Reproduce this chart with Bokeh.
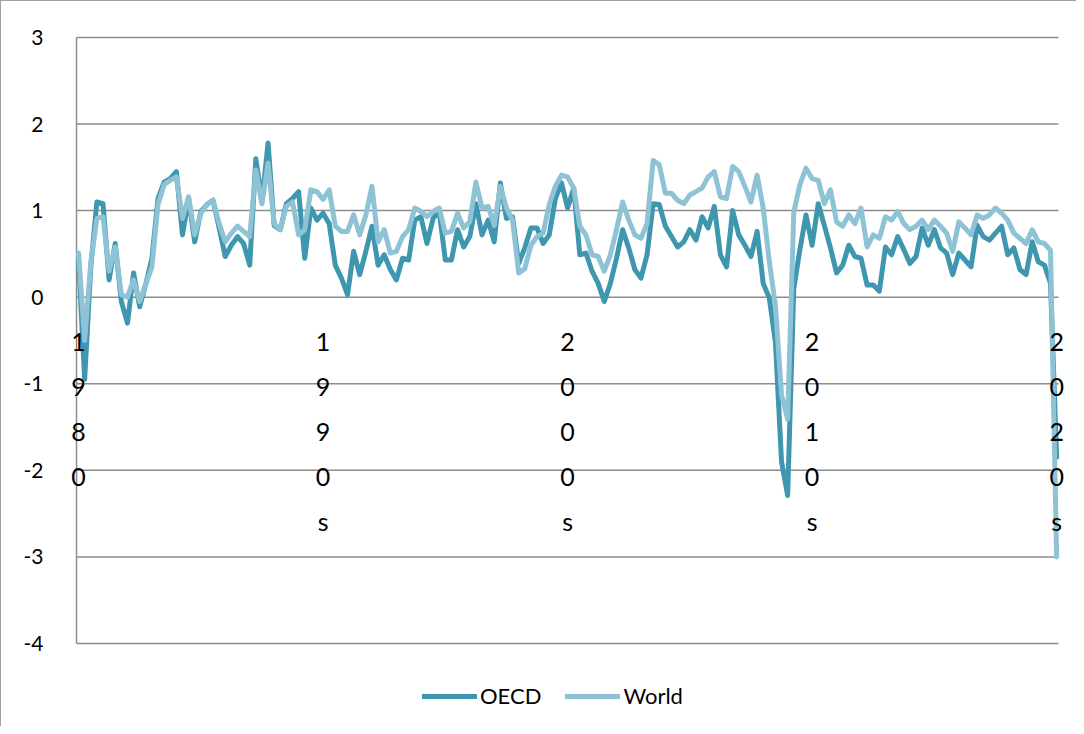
from bokeh.plotting import figure
from bokeh.models import ColumnDataSource, Legend, LegendItem, Range1d, FixedTicker
from bokeh.core.properties import value
from bokeh.embed import file_html
from bokeh.resources import INLINE

# Quarterly GDP growth, quarter-on-quarter (%), 1980Q1 - 2020Q1
quarters = [f"{y}Q{q}" for y in range(1980, 2021) for q in range(1, 5)][:161]

oecd = [0.45, -0.95, 0.35, 1.10, 1.08, 0.20, 0.62, -0.05, -0.30, 0.28,
        -0.11, 0.15, 0.45, 1.14, 1.33, 1.37, 1.45, 0.72, 1.14, 0.64,
        0.99, 1.07, 1.12, 0.80, 0.47, 0.60, 0.70, 0.62, 0.37, 1.60,
        1.10, 1.78, 0.83, 0.78, 1.08, 1.14, 1.22, 0.45, 1.03, 0.89,
        0.97, 0.85, 0.37, 0.22, 0.03, 0.53, 0.26, 0.53, 0.82, 0.37,
        0.49, 0.32, 0.20, 0.45, 0.43, 0.89, 0.93, 0.62, 0.91, 0.99,
        0.43, 0.43, 0.78, 0.58, 0.70, 1.08, 0.72, 0.89, 0.64, 1.32,
        0.91, 0.93, 0.39, 0.57, 0.80, 0.80, 0.62, 0.72, 1.14, 1.32,
        1.03, 1.26, 0.49, 0.51, 0.30, 0.16, -0.05, 0.16, 0.45, 0.78,
        0.57, 0.32, 0.22, 0.49, 1.08, 1.07, 0.82, 0.70, 0.58, 0.64,
        0.78, 0.66, 0.93, 0.80, 1.05, 0.49, 0.35, 1.00, 0.72, 0.60,
        0.47, 0.76, 0.16, -0.01, -0.52, -1.90, -2.29, 0.10, 0.55, 0.95,
        0.60, 1.08, 0.83, 0.57, 0.28, 0.37, 0.60, 0.47, 0.45, 0.14,
        0.14, 0.07, 0.58, 0.49, 0.70, 0.55, 0.39, 0.47, 0.80, 0.60,
        0.78, 0.57, 0.51, 0.26, 0.51, 0.43, 0.35, 0.83, 0.70, 0.66,
        0.74, 0.82, 0.49, 0.57, 0.32, 0.26, 0.64, 0.41, 0.37, 0.16,
        -1.85]

world = [0.51, -0.50, 0.40, 0.91, 0.93, 0.30, 0.58, 0.03, 0.00, 0.20,
         -0.05, 0.15, 0.35, 1.07, 1.30, 1.35, 1.39, 0.91, 1.16, 0.72,
         0.97, 1.07, 1.12, 0.85, 0.64, 0.74, 0.82, 0.76, 0.70, 1.47,
         1.08, 1.55, 0.85, 0.78, 1.05, 1.10, 0.72, 0.78, 1.24, 1.22,
         1.13, 1.24, 0.82, 0.76, 0.76, 0.95, 0.72, 0.95, 1.28, 0.64,
         0.78, 0.51, 0.53, 0.70, 0.78, 1.03, 0.99, 0.93, 0.99, 1.03,
         0.74, 0.76, 0.97, 0.80, 0.87, 1.33, 1.03, 1.05, 0.83, 1.28,
         1.03, 0.89, 0.28, 0.33, 0.60, 0.70, 0.74, 1.07, 1.28, 1.41,
         1.39, 1.26, 0.82, 0.72, 0.49, 0.47, 0.30, 0.49, 0.78, 1.10,
         0.89, 0.72, 0.68, 0.85, 1.58, 1.53, 1.20, 1.20, 1.12, 1.08,
         1.18, 1.22, 1.26, 1.39, 1.45, 1.16, 1.14, 1.51, 1.45, 1.28,
         1.10, 1.41, 1.03, 0.41, -0.10, -1.13, -1.41, 0.98, 1.30, 1.49,
         1.37, 1.35, 1.08, 1.24, 0.87, 0.82, 0.95, 0.85, 1.03, 0.58,
         0.72, 0.68, 0.93, 0.89, 0.99, 0.85, 0.78, 0.82, 0.89, 0.78,
         0.89, 0.82, 0.74, 0.53, 0.87, 0.80, 0.72, 0.95, 0.91, 0.95,
         1.03, 0.97, 0.89, 0.74, 0.68, 0.62, 0.78, 0.64, 0.62, 0.54,
         -3.00]

decade_labels = ["1980", "1990s", "2000s", "2010s", "2020s"]
decade_quarters = ["1980Q1", "1990Q1", "2000Q1", "2010Q1", "2020Q1"]
y_ticks = [-4, -3, -2, -1, 0, 1, 2, 3]
y_tick_labels = ["-4", "-3", "-2", "-1", "0", "1", "2", "3"]

FONT = "Lato"
GRID = "#8c8c8c"
C_OECD = "#3f97af"
C_WORLD = "#8ec2d5"

n = len(quarters)
idx = list(range(n))
src = ColumnDataSource(dict(x=idx, q=quarters, oecd=oecd, world=world))

# category-axis extent (half a gap either side of first/last quarter, as in Excel)
x_lo, x_hi = -0.33, n - 1 + 0.3

p = figure(width=1076, height=726, output_backend="svg", toolbar_location=None,
           x_range=Range1d(x_lo - 3.44, x_hi + 2.95), y_range=Range1d(-4.97, 3.092),
           min_border_left=54, min_border_right=1, min_border_top=28,
           min_border_bottom=0, x_axis_location=None)
p.styles = {"border-left": "1px solid #a0a0a0", "border-top": "1px solid #a0a0a0"}
p.outline_line_color = None
p.background_fill_color = "white"
p.border_fill_color = "white"

# y axis (labels only; axis line and grid drawn on the category extent below)
p.yaxis.ticker = FixedTicker(ticks=y_ticks)
p.yaxis.major_label_overrides = {t: s for t, s in zip(y_ticks, y_tick_labels)}
p.yaxis.axis_line_color = None
p.yaxis.major_tick_line_color = None
p.yaxis.minor_tick_line_color = None
p.yaxis.major_label_standoff = 6
p.yaxis.major_label_text_font = FONT
p.yaxis.major_label_text_font_size = "21px"
p.yaxis.major_label_text_color = "black"
p.grid.grid_line_color = None

p.segment(x0=[x_lo] * len(y_ticks), x1=[x_hi] * len(y_ticks), y0=y_ticks, y1=y_ticks,
          line_color=GRID, line_width=1.5)
p.segment(x0=[x_lo], x1=[x_lo], y0=[min(y_ticks)], y1=[max(y_ticks)],
          line_color=GRID, line_width=1.5)

r1 = p.line("x", "oecd", source=src, line_color=C_OECD, line_width=5,
            line_join="round", line_cap="round")
r2 = p.line("x", "world", source=src, line_color=C_WORLD, line_width=5,
            line_join="round", line_cap="round")

# decade labels written vertically, one character per line (as in the original)
lab_x = [quarters.index(q) for q in decade_quarters]
lab_txt = ["\n".join(list(s)) for s in decade_labels]
lab_src = ColumnDataSource(dict(x=lab_x, y=[0] * len(lab_x), t=lab_txt))
p.text("x", "y", text="t", source=lab_src, text_align="center", text_baseline="top",
       y_offset=29, text_font=value(FONT), text_font_size="25px", text_color="black",
       text_line_height=1.5)

legend = Legend(items=[LegendItem(label="OECD", renderers=[r1]),
                       LegendItem(label="World", renderers=[r2])],
                orientation="horizontal", location=(367, 18))
legend.label_text_font = FONT
legend.label_text_font_size = "22px"
legend.label_text_color = "black"
legend.glyph_width = 55
legend.glyph_height = 20
legend.label_standoff = 3
legend.spacing = 24
legend.padding = 0
legend.margin = 0
legend.border_line_color = None
legend.background_fill_alpha = 0
p.add_layout(legend, "center")

open("out.html", "w").write(file_html(p, INLINE))
